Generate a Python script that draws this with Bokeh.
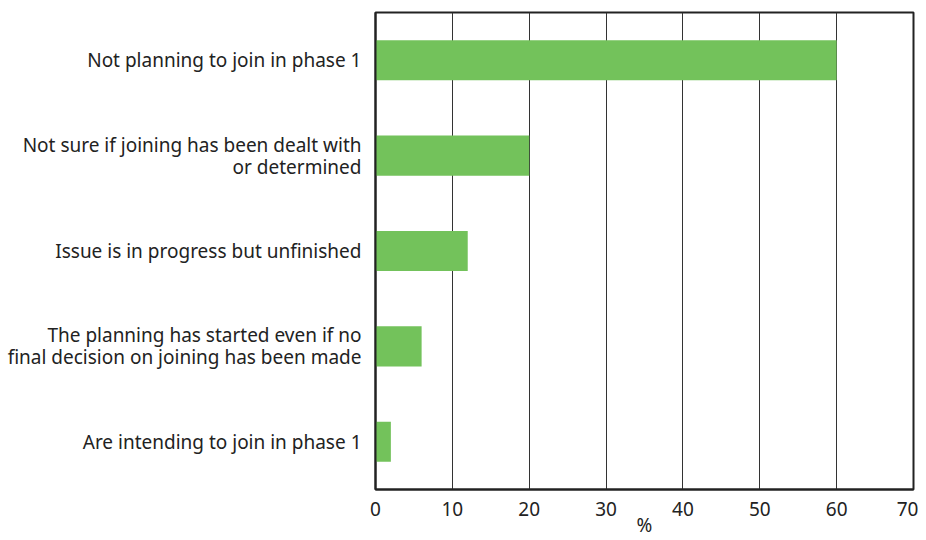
from bokeh.plotting import figure
from bokeh.models import FactorRange, FixedTicker
from bokeh.embed import file_html
from bokeh.resources import INLINE

categories = [
    "Not planning to join in phase 1",
    "Not sure if joining has been dealt with\nor determined",
    "Issue is in progress but unfinished",
    "The planning has started even if no\nfinal decision on joining has been made",
    "Are intending to join in phase 1",
]
values = [60, 20, 12, 6, 2]
x_ticks = [0, 10, 20, 30, 40, 50, 60, 70]

FONT = "Noto Sans"
TXT = "#222222"

p = figure(
    width=918, height=540,
    y_range=FactorRange(factors=list(reversed(categories)), range_padding=0),
    x_range=(0, 70),
    output_backend="svg", toolbar_location=None,
    min_border_left=375, min_border_right=5, min_border_top=12, min_border_bottom=50,
)
p.hbar(y=categories, right=values, left=0, height=0.42, color="#73c25b", line_color=None)

p.outline_line_color = "#222222"
p.outline_line_width = 2
p.background_fill_color = "white"
p.border_fill_color = "white"

p.ygrid.grid_line_color = None
p.xgrid.grid_line_color = "#333333"
p.xgrid.grid_line_width = 1
p.xaxis.ticker = FixedTicker(ticks=x_ticks)

p.xaxis.axis_line_color = "#222222"
p.xaxis.axis_line_width = 2
p.xaxis.major_tick_out = 0
p.xaxis.major_tick_in = 0
p.xaxis.minor_tick_out = 0
p.xaxis.minor_tick_in = 0
p.xaxis.major_label_text_font = FONT
p.xaxis.major_label_text_font_size = "19px"
p.xaxis.major_label_text_color = TXT
p.xaxis.major_label_standoff = 12
p.xaxis.axis_label = "%"
p.xaxis.axis_label_text_font = FONT
p.xaxis.axis_label_text_font_size = "19px"
p.xaxis.axis_label_text_font_style = "normal"
p.xaxis.axis_label_text_color = TXT
p.xaxis.axis_label_standoff = -7

p.yaxis.axis_line_color = "#222222"
p.yaxis.axis_line_width = 2
p.yaxis.major_tick_out = 0
p.yaxis.major_tick_in = 0
p.yaxis.major_label_text_font = FONT
p.yaxis.major_label_text_font_size = "19px"
p.yaxis.major_label_text_color = TXT
p.yaxis.major_label_standoff = 14
p.yaxis.major_label_text_line_height = 0.85

open("out.html", "w").write(file_html(p, INLINE))
